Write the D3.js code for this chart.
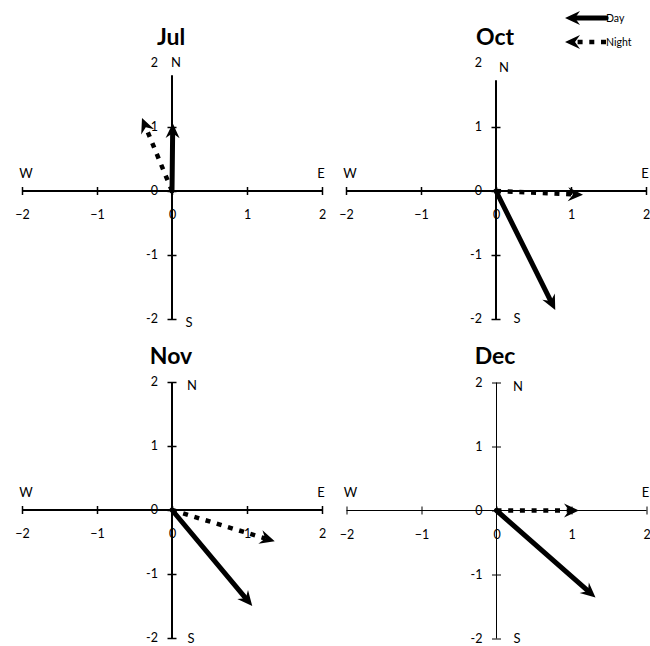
<!DOCTYPE html>
<html>
<head>
<meta charset="utf-8">
<script src="https://cdn.jsdelivr.net/npm/d3@7"></script>
<style>
  html, body { margin: 0; padding: 0; background: #fff; }
  svg { display: block; }
  text { font-family: Lato, "Noto Sans", sans-serif; fill: #000; }
</style>
</head>
<body>
<svg id="chart" width="650" height="646"></svg>
<script>
// Mean wind vectors (east, north components) by month, day vs night
const months = ["Jul", "Oct", "Nov", "Dec"];
const dayU   = [0.01, 0.79, 1.07, 1.32];
const dayV   = [1.06, -1.86, -1.50, -1.36];
const nightU = [-0.40, 1.16, 1.37, 1.10];
const nightV = [1.14, -0.06, -0.49, 0.00];
const tickValues = [-2, -1, 0, 1, 2];
const seriesNames = ["Day", "Night"];

// Panel layout: 2x2 grid of origins
const origins = [[172, 191], [496, 191], [172, 510], [496, 510]];
const axisWidth = [2, 2, 2, 1];
const yAxisTop = [1.81, 1.73, 2, 2];
const nOffset = [[4, -129], [8, -124], [20, -125], [22, -124]];
const sOffset = [[17, 131], [21, 127], [19, 128], [21, 128]];

const svg = d3.select("#chart");

const lineStyles = {
  Day:   { width: 5,   dash: null,   cap: "round" },
  Night: { width: 4.5, dash: "5,6.7", cap: "butt" }
};

// Draw an arrow whose tip lands on (x2, y2); the shaft stops at the head's notch
function arrow(g, x1, y1, x2, y2, style) {
  const dx = x2 - x1, dy = y2 - y1;
  const len = Math.hypot(dx, dy);
  const back = 10;
  const ex = x2 - dx / len * back, ey = y2 - dy / len * back;
  g.append("line")
    .attr("x1", x1).attr("y1", y1)
    .attr("x2", ex).attr("y2", ey)
    .attr("stroke", "#000")
    .attr("stroke-width", style.width)
    .attr("stroke-linecap", style.cap)
    .attr("stroke-dasharray", style.dash);
  g.append("path")
    .attr("d", "M0,0 L-15,-7 L-10,0 L-15,7 Z")
    .attr("fill", "#000")
    .attr("transform", `translate(${x2},${y2}) rotate(${Math.atan2(dy, dx) * 180 / Math.PI})`);
}

const xFmt = d3.format("d");          // uses the typographic minus sign
const yFmt = d => String(d);          // plain hyphen-minus

months.forEach((m, i) => {
  const [ox, oy] = origins[i];
  const aw = axisWidth[i];
  const half = aw % 2 === 1 ? 0.5 : 0;  // keep 1px axes on the pixel grid
  const x = d3.scaleLinear().domain([-2, 2]).range([ox - 150 + half, ox + 150 + half]);
  const y = d3.scaleLinear().domain([-2, 2]).range([oy + 128 + half, oy - 128 + half]);
  const g = svg.append("g");
  const tw = aw > 1 ? 1.5 : 1;

  // Title
  g.append("text")
    .attr("x", ox - 1).attr("y", oy - 154)
    .attr("dy", "0.35em")
    .attr("text-anchor", "middle")
    .attr("font-size", 23).attr("font-weight", "bold")
    .text(m);

  // Horizontal axis through the origin
  const xAxis = d3.axisBottom(x).tickValues(tickValues).tickSize(4).tickSizeOuter(0).tickFormat(xFmt);
  const gx = g.append("g").attr("transform", `translate(0,${y(0)})`).call(xAxis);
  gx.select(".domain").remove();
  gx.selectAll(".tick line").attr("y1", -4).attr("y2", 4).attr("stroke-width", tw);
  gx.selectAll(".tick text")
    .attr("y", 28).attr("dy", 0)
    .attr("font-size", 12.5).attr("font-family", "Lato, 'Noto Sans', sans-serif");
  g.append("line")
    .attr("x1", x(-2)).attr("x2", x(2))
    .attr("y1", y(0)).attr("y2", y(0))
    .attr("stroke", "#000").attr("stroke-width", aw);

  // Vertical axis through the origin
  const yTicks = tickValues.filter(v => v <= yAxisTop[i]);
  const yAxis = d3.axisLeft(y).tickValues(yTicks).tickSize(4.5).tickSizeOuter(0).tickFormat(yFmt);
  const gy = g.append("g").attr("transform", `translate(${x(0)},0)`).call(yAxis);
  gy.select(".domain").remove();
  gy.selectAll(".tick line").attr("x1", -4.5).attr("x2", 4.5).attr("stroke-width", tw);
  gy.selectAll(".tick text").remove();
  tickValues.forEach(v => {
    g.append("text")
      .attr("x", x(0) - 14).attr("y", y(v))
      .attr("dy", "0.35em")
      .attr("text-anchor", "end")
      .attr("font-size", 12.5)
      .text(yFmt(v));
  });
  g.append("line")
    .attr("x1", x(0)).attr("x2", x(0))
    .attr("y1", y(yAxisTop[i])).attr("y2", y(-2))
    .attr("stroke", "#000").attr("stroke-width", aw);

  // Compass labels
  const compassText = (t, px, py) => g.append("text")
    .attr("x", px).attr("y", py).attr("dy", "0.35em")
    .attr("text-anchor", "middle").attr("font-size", 13).text(t);
  compassText("N", ox + nOffset[i][0], oy + nOffset[i][1]);
  compassText("S", ox + sOffset[i][0], oy + sOffset[i][1]);
  compassText("E", x(2) - 1, y(0) - 18);
  compassText("W", x(-2) + 4, y(0) - 18);

  // Wind vectors
  arrow(g, x(0), y(0), x(nightU[i]), y(nightV[i]), lineStyles.Night);
  arrow(g, x(0), y(0), x(dayU[i]), y(dayV[i]), lineStyles.Day);
});

// Legend (top right)
const legend = svg.append("g");
seriesNames.forEach((name, k) => {
  const ly = 18 + k * 24;
  arrow(legend, 606, ly, 565, ly, lineStyles[name]);
  legend.append("text")
    .attr("x", 606).attr("y", ly + 4)
    .attr("font-size", 10.5)
    .text(name);
});
</script>
</body>
</html>
